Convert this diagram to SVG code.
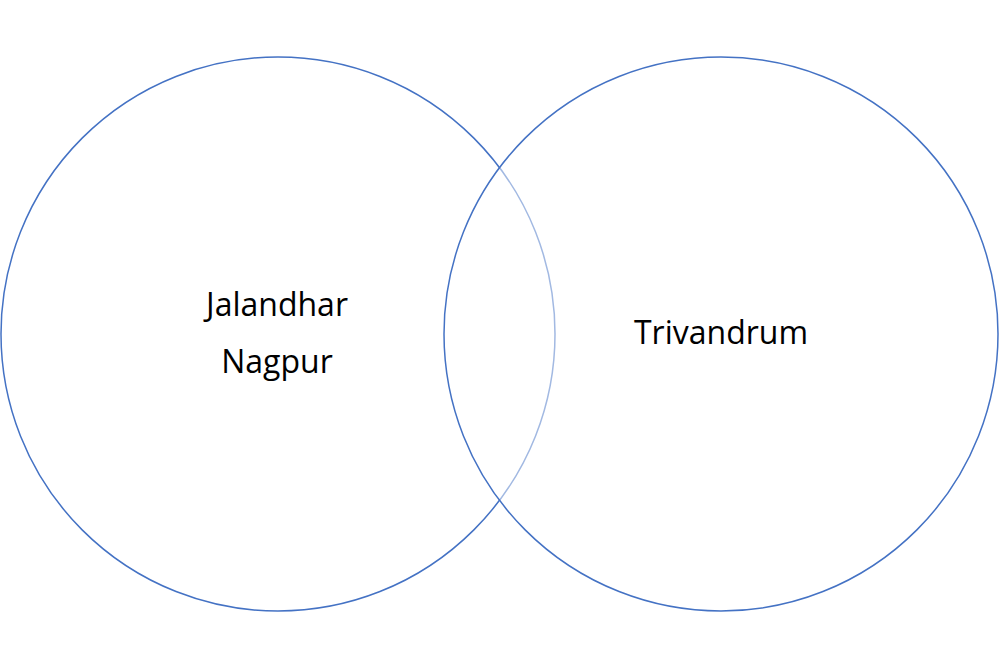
<svg xmlns="http://www.w3.org/2000/svg" width="999" height="666" viewBox="0 0 999 666">
<style>
.c{stroke:#4472C4;stroke-width:1.5}
.t{font-family:"Open Sans","Liberation Sans",sans-serif;font-size:32px;fill:#000;text-anchor:middle}
</style>
<rect width="999" height="666" fill="#fff"/>
<g id="left">
<circle class="c" cx="278" cy="334" r="277" fill="#fff"/>
<text class="t" x="277" y="316">Jalandhar</text>
<text class="t" x="277" y="373">Nagpur</text>
</g>
<g id="right">
<circle class="c" cx="721" cy="334" r="277" fill="#fff" fill-opacity="0.5"/>
<text class="t" x="721" y="344">Trivandrum</text>
</g>
<g id="connectors"/>
</svg>
